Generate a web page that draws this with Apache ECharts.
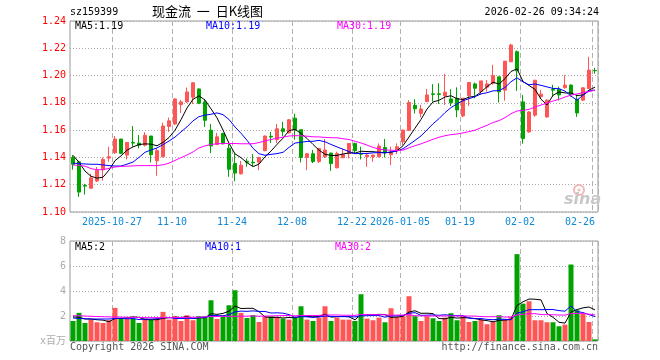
<!DOCTYPE html>
<html><head><meta charset="utf-8">
<script src="https://cdn.jsdelivr.net/npm/echarts@6/dist/echarts.min.js"></script>
<style>html,body{margin:0;padding:0;background:#fff}#c{width:660px;height:360px}</style>
</head><body><div id="c"></div>
<script>
// ---- data ----
const dates = [
'2025-10-16','2025-10-17','2025-10-20','2025-10-21','2025-10-22','2025-10-23','2025-10-24','2025-10-27','2025-10-28','2025-10-29','2025-10-30','2025-10-31',
'2025-11-03','2025-11-04','2025-11-05','2025-11-06','2025-11-07','2025-11-10','2025-11-11','2025-11-12','2025-11-13','2025-11-14','2025-11-17','2025-11-18','2025-11-19','2025-11-20','2025-11-21','2025-11-24','2025-11-25','2025-11-26','2025-11-27','2025-11-28',
'2025-12-01','2025-12-02','2025-12-03','2025-12-04','2025-12-05','2025-12-08','2025-12-09','2025-12-10','2025-12-11','2025-12-12','2025-12-15','2025-12-16','2025-12-17','2025-12-18','2025-12-19','2025-12-22','2025-12-23','2025-12-24','2025-12-25','2025-12-26','2025-12-29','2025-12-30','2025-12-31',
'2026-01-05','2026-01-06','2026-01-07','2026-01-08','2026-01-09','2026-01-12','2026-01-13','2026-01-14','2026-01-15','2026-01-16','2026-01-19','2026-01-20','2026-01-21','2026-01-22','2026-01-23','2026-01-26','2026-01-27','2026-01-28','2026-01-29','2026-01-30',
'2026-02-02','2026-02-03','2026-02-04','2026-02-05','2026-02-06','2026-02-09','2026-02-10','2026-02-11','2026-02-12','2026-02-13','2026-02-24','2026-02-25','2026-02-26'];
const opens  = [1.1400,1.1368,1.1195,1.1175,1.1227,1.1310,1.1395,1.1434,1.1535,1.1417,1.1510,1.1505,1.1490,1.1557,1.1375,1.1405,1.1627,1.1645,1.1787,1.1807,1.1842,1.1902,1.1807,1.1600,1.1495,1.1576,1.1468,1.1356,1.1280,1.1372,1.1365,1.1365,1.1450,1.1555,1.1530,1.1610,1.1580,1.1688,1.1603,1.1400,1.1427,1.1370,1.1405,1.1432,1.1324,1.1398,1.1429,1.1503,1.1426,1.1405,1.1405,1.1405,1.1473,1.1420,1.1454,1.1515,1.1598,1.1782,1.1723,1.1809,1.1866,1.1866,1.1853,1.1829,1.1833,1.1704,1.1853,1.1939,1.1883,1.1915,1.1944,1.1991,1.1893,1.2101,1.2175,1.1807,1.1587,1.1710,1.1846,1.1697,1.1898,1.1900,1.1910,1.1930,1.1827,1.1820,1.1906,1.2037];
const closes = [1.1350,1.1146,1.1190,1.1250,1.1305,1.1385,1.1405,1.1535,1.1430,1.1510,1.1505,1.1490,1.1562,1.1420,1.1450,1.1630,1.1668,1.1828,1.1807,1.1880,1.1947,1.1797,1.1672,1.1484,1.1551,1.1500,1.1313,1.1285,1.1343,1.1365,1.1360,1.1400,1.1557,1.1550,1.1610,1.1590,1.1676,1.1603,1.1400,1.1427,1.1370,1.1466,1.1454,1.1355,1.1429,1.1422,1.1503,1.1449,1.1424,1.1417,1.1417,1.1483,1.1434,1.1434,1.1478,1.1600,1.1802,1.1757,1.1755,1.1858,1.1862,1.1862,1.1878,1.1801,1.1748,1.1834,1.1949,1.1907,1.1961,1.1939,1.2000,1.1881,1.2106,1.2224,1.2035,1.1538,1.1733,1.1966,1.1864,1.1820,1.1893,1.1858,1.1930,1.1864,1.1726,1.1910,1.2040,1.2035];
const lows   = [1.1310,1.1110,1.1127,1.1168,1.1220,1.1230,1.1368,1.1425,1.1425,1.1385,1.1478,1.1466,1.1480,1.1363,1.1266,1.1400,1.1587,1.1637,1.1725,1.1800,1.1791,1.1790,1.1624,1.1432,1.1490,1.1495,1.1258,1.1225,1.1275,1.1332,1.1335,1.1307,1.1445,1.1505,1.1505,1.1555,1.1575,1.1530,1.1363,1.1307,1.1358,1.1360,1.1395,1.1302,1.1320,1.1395,1.1393,1.1424,1.1385,1.1331,1.1368,1.1400,1.1400,1.1344,1.1424,1.1491,1.1595,1.1723,1.1694,1.1805,1.1809,1.1792,1.1785,1.1777,1.1694,1.1694,1.1777,1.1834,1.1858,1.1883,1.1932,1.1802,1.1817,1.2101,1.1888,1.1501,1.1581,1.1697,1.1830,1.1690,1.1846,1.1817,1.1905,1.1846,1.1697,1.1815,1.1906,1.2013];
const highs  = [1.1417,1.1376,1.1207,1.1280,1.1330,1.1400,1.1478,1.1557,1.1535,1.1510,1.1630,1.1564,1.1585,1.1557,1.1466,1.1655,1.1692,1.1835,1.1822,1.1912,1.1952,1.1905,1.1825,1.1645,1.1580,1.1580,1.1505,1.1430,1.1375,1.1392,1.1425,1.1405,1.1560,1.1587,1.1645,1.1660,1.1680,1.1720,1.1603,1.1430,1.1455,1.1466,1.1535,1.1434,1.1442,1.1459,1.1503,1.1508,1.1478,1.1434,1.1420,1.1503,1.1535,1.1478,1.1503,1.1605,1.1821,1.1826,1.1785,1.1902,1.1937,1.1944,1.2012,1.1900,1.1914,1.1834,1.1949,1.1949,1.1961,1.1968,1.2079,1.1991,1.2106,1.2233,1.2184,1.1858,1.1740,1.1968,1.1895,1.1825,1.1932,1.1919,1.2003,1.1935,1.1858,1.1915,1.2138,1.2057];
const volumes = [1.60,2.25,1.44,1.71,1.50,1.44,1.66,2.65,1.76,1.79,1.79,1.44,1.79,1.71,1.79,2.33,1.71,1.98,1.60,2.06,1.66,1.98,1.98,3.26,1.76,2.06,2.86,4.06,2.25,1.84,2.06,1.52,1.98,1.98,1.93,1.79,1.71,1.87,2.78,1.71,1.60,1.87,2.78,1.60,1.87,1.71,1.71,1.60,3.74,1.79,1.66,1.87,1.50,2.62,1.93,1.98,3.58,1.98,1.60,1.98,1.82,1.60,1.87,2.22,1.66,1.98,1.52,1.60,1.71,1.34,1.52,2.06,1.74,1.93,6.95,2.99,3.18,1.66,1.66,1.50,1.50,1.18,1.31,6.12,2.46,2.19,1.52,0.13];
const ma5Head  = [1.1415,1.1365,1.1300,1.1262];
const ma10Head = [1.1358,1.1355,1.1352,1.1350,1.1350,1.1345,1.1340,1.1337,1.1337];
const ma30Head = [1.1344,1.1342,1.1336,1.1318,1.1310,1.1310,1.1320,1.1330,1.1334,1.1336,1.1338,1.1340,1.1340,1.1340,1.1340,1.1346,1.1358,1.1378,1.1398,1.1418,1.1440,1.1470,1.1485,1.1495,1.1500,1.1502,1.1502,1.1502,1.1500];
const vma5Head  = [1.93,1.90,1.76,1.76];
const vma10Head = [1.84,1.80,1.78,1.76,1.76,1.76,1.76,1.80,1.82];
const vma30Head = [2.03,2.02,2.00,1.98,1.96,1.94,1.93,1.92,1.91,1.90,1.89,1.88,1.87,1.87,1.87,1.87,1.87,1.88,1.88,1.89,1.90,1.91,1.93,1.95,1.96,1.97,1.97,1.98,1.98];
const tickDates  = ['2025-10-27','2025-11-10','2025-11-24','2025-12-08','2025-12-22','2026-01-05','2026-01-19','2026-02-02','2026-02-26'];
const tickLabels = ['2025-10-27','11-10','11-24','12-08','12-22','2026-01-05','01-19','02-02','02-26'];
const priceTicks = {min:1.10, max:1.24, step:0.02};
const volTicks = {min:0, max:8, step:2};
const priceLegend = ['MA5:1.19','MA10:1.19','MA30:1.19'];
const volLegend = ['MA5:2','MA10:1','MA30:2'];

// ---- build ----
function ma(vals, n, head){
  return vals.map((v,i)=>{
    if(i < head.length) return head[i];
    let s=0; for(let k=i-n+1;k<=i;k++) s+=vals[k];
    return +(s/n).toFixed(5);
  });
}
const RED='#ff5555', GREEN='#00a300';
const MONO='"DejaVu Sans Mono","Liberation Mono",monospace';
const kdata = opens.map((o,i)=>[o,closes[i],lows[i],highs[i]]);
const vdata = volumes.map((v,i)=>({value:v,itemStyle:{color: closes[i]>=opens[i]?RED:GREEN}}));
const isTick = (idx, val) => tickDates.indexOf(dates[idx]) >= 0;

const chart = echarts.init(document.getElementById('c'), null, {renderer:'canvas'});
const lineS = (name,data,color,x,y)=>({type:'line',name,data,xAxisIndex:x,yAxisIndex:y,showSymbol:false,symbol:'none',
  lineStyle:{width:1,color},itemStyle:{color},z:5,silent:true});
const splitV = {show:true,interval:isTick,lineStyle:{color:'#b0b0b0',type:[5,3],width:1}};
chart.setOption({
  animation:false,
  backgroundColor:'#fff',
  grid:[
    {left:70,top:21,width:528,height:191,show:true,borderColor:'#999',borderWidth:1},
    {left:70,top:241,width:528,height:100,show:true,borderColor:'#999',borderWidth:1}
  ],
  xAxis:[
    {type:'category',gridIndex:0,data:dates,boundaryGap:true,
     axisLine:{show:false},axisTick:{show:false},
     axisLabel:{interval:isTick,color:'#1189d6',fontFamily:MONO,fontSize:10,margin:5,
       formatter:(v)=>{const k=tickDates.indexOf(v); if(k<0) return ''; return k===tickDates.length-1?'{e|'+tickLabels[k]+'}':'{n|'+tickLabels[k]+'}';},
       rich:{n:{padding:[0,6,0,0],color:'#1189d6',fontFamily:MONO,fontSize:10},e:{padding:[0,30,0,0],color:'#1189d6',fontFamily:MONO,fontSize:10}}},
     splitLine:splitV},
    {type:'category',gridIndex:1,data:dates,boundaryGap:true,
     axisLine:{show:false},axisTick:{show:false},axisLabel:{show:false},splitLine:splitV}
  ],
  yAxis:[
    {type:'value',gridIndex:0,min:priceTicks.min,max:priceTicks.max,interval:priceTicks.step,
     axisLine:{show:false},axisTick:{show:false},
     axisLabel:{color:'#ff0000',fontFamily:MONO,fontSize:10,margin:4,formatter:v=>v.toFixed(2)},
     splitLine:{show:true,lineStyle:{color:'#aaa',type:[1,2]}}},
    {type:'value',gridIndex:1,min:volTicks.min,max:volTicks.max,interval:volTicks.step,
     axisLine:{show:false},axisTick:{show:false},
     axisLabel:{color:'#aaa',fontFamily:MONO+',"Noto Sans CJK SC"',fontSize:10,margin:4,formatter:v=>v===0?'x百万':String(v)},
     splitLine:{show:true,lineStyle:{color:'#aaa',type:[1,2]}}}
  ],
  series:[
    {type:'candlestick',xAxisIndex:0,yAxisIndex:0,data:kdata,barWidth:4,
     itemStyle:{color:RED,color0:GREEN,borderColor:RED,borderColor0:GREEN,borderWidth:1},z:3,silent:true},
    lineS('MA5',ma(closes,5,ma5Head),'#000',0,0),
    lineS('MA10',ma(closes,10,ma10Head),'#0000ff',0,0),
    lineS('MA30',ma(closes,30,ma30Head),'#ff00ff',0,0),
    {type:'bar',xAxisIndex:1,yAxisIndex:1,data:vdata,barWidth:5,z:3,silent:true},
    lineS('VMA5',ma(volumes,5,vma5Head),'#000',1,1),
    lineS('VMA10',ma(volumes,10,vma10Head),'#0000ff',1,1),
    lineS('VMA30',ma(volumes,30,vma30Head),'#ff00ff',1,1)
  ],
  graphic:[
    {type:'text',left:70,top:7,style:{text:'sz159399',font:'10px '+MONO,fill:'#000'}},
    {type:'text',left:152,top:5,style:{text:'现金流  一  日K线图',font:'13px "Noto Sans CJK SC"',fill:'#000'}},
    {type:'text',right:61,top:7,style:{text:'2026-02-26 09:34:24',font:'10px '+MONO,fill:'#000'}},
    {type:'text',left:75,top:21,style:{text:priceLegend[0],font:'10px '+MONO,fill:'#000'},z:10},
    {type:'text',left:206,top:21,style:{text:priceLegend[1],font:'10px '+MONO,fill:'#0000ff'},z:10},
    {type:'text',left:337,top:21,style:{text:priceLegend[2],font:'10px '+MONO,fill:'#ff00ff'},z:10},
    {type:'text',left:75,top:242,style:{text:volLegend[0],font:'10px '+MONO,fill:'#000'},z:10},
    {type:'text',left:205,top:242,style:{text:volLegend[1],font:'10px '+MONO,fill:'#0000ff'},z:10},
    {type:'text',left:335,top:242,style:{text:volLegend[2],font:'10px '+MONO,fill:'#ff00ff'},z:10},
    {type:'text',left:70,top:342,style:{text:'Copyright 2026 SINA.COM',font:'10px '+MONO,fill:'#555'}},
    {type:'text',right:62,top:342,style:{text:'http://finance.sina.com.cn',font:'10px '+MONO,fill:'#555'}},
    {type:'circle',shape:{cx:579,cy:190,r:5},style:{fill:'none',stroke:'#f2b8b8',lineWidth:2},z:1},
    {type:'circle',shape:{cx:579,cy:190,r:1.5},style:{fill:'#f2b8b8'},z:1},
    {type:'text',left:564,top:192,style:{text:'sina',font:'italic bold 16px "DejaVu Sans"',fill:'#c8c8c8'},z:1}
  ]
});
</script></body></html>
